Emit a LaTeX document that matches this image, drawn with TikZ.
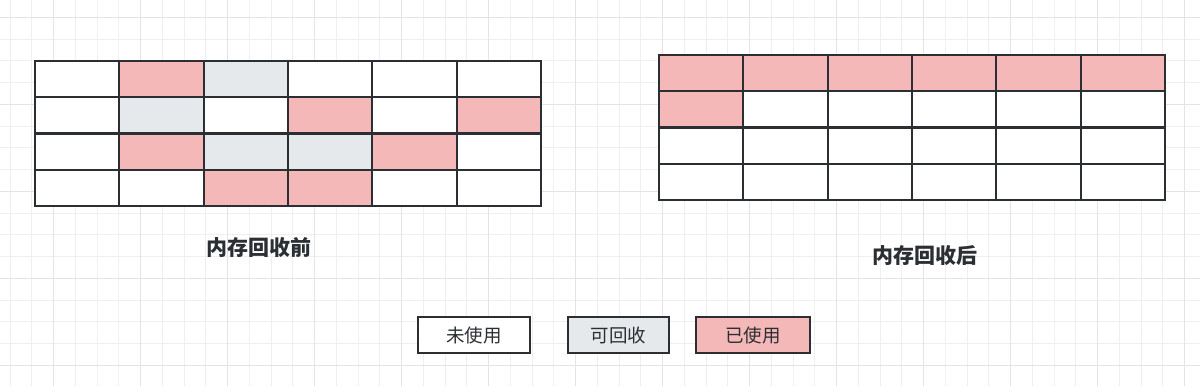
\documentclass[tikz,border=0pt]{standalone}
\usepackage{fontspec}
\newfontfamily\cjk{Noto Sans CJK SC}
\definecolor{pinkc}{HTML}{F4B8B8}
\definecolor{grayc}{HTML}{E6E9EC}
\definecolor{linec}{HTML}{2B2F33}
\definecolor{gridl}{HTML}{EFEFEF}
\definecolor{gridh}{HTML}{E4E4E4}
\tikzset{
  cell/.style={draw=linec,line width=2.2pt,minimum width=84.33pt,minimum height=36.25pt,inner sep=0pt,outer sep=0pt,anchor=north west},
  legend/.style={draw=linec,line width=2.2pt,minimum height=36pt,inner sep=0pt,outer sep=0pt,font=\cjk\fontsize{18.5}{22}\selectfont,text=linec},
  title/.style={font=\cjk\bfseries\fontsize{21}{25}\selectfont,text=linec,inner sep=0pt}
}
\begin{document}
\begin{tikzpicture}[x=1pt,y=-1pt]
\useasboundingbox (0,0) rectangle (1200,386);
\fill[white] (0,0) rectangle (1200,386);
% background grid
\foreach \i in {0,...,54} {\draw[gridl,line width=1pt] ({10.2+21.75*\i},0) -- ++(0,386);}
\foreach \i in {0,...,17} {\draw[gridl,line width=1pt] (0,{17.3+21.75*\i}) -- ++(1200,0);}
\foreach \i in {0,...,13} {\draw[gridh,line width=1.2pt] ({53.7+87*\i},0) -- ++(0,386);}
\foreach \i in {0,...,4} {\draw[gridh,line width=1.2pt] (0,{17.3+87*\i}) -- ++(1200,0);}
% left grid (before)
\foreach \r/\pat in {0/{white,pinkc,grayc,white,white,white},
                     1/{white,grayc,white,pinkc,white,pinkc},
                     2/{white,pinkc,grayc,grayc,pinkc,white},
                     3/{white,white,pinkc,pinkc,white,white}} {
  \foreach \f [count=\c from 0] in \pat {
    \node[cell,fill=\f] (L-\r-\c) at ({35+84.33*\c},{61+36.25*\r}) {};
  }
}
% right grid (after)
\foreach \r/\pat in {0/{pinkc,pinkc,pinkc,pinkc,pinkc,pinkc},
                     1/{pinkc,white,white,white,white,white},
                     2/{white,white,white,white,white,white},
                     3/{white,white,white,white,white,white}} {
  \foreach \f [count=\c from 0] in \pat {
    \node[cell,fill=\f] (R-\r-\c) at ({659+84.33*\c},{55+36.25*\r}) {};
  }
}
% titles
\node[title] (tbefore) at (258.5,248) {内存回收前};
\node[title] (tafter) at (925,256) {内存回收后};
% legend
\node[legend,fill=white,minimum width=112pt] (lg1) at (474,335) {未使用};
\node[legend,fill=grayc,minimum width=101pt] (lg2) at (618.5,335) {可回收};
\node[legend,fill=pinkc,minimum width=114pt] (lg3) at (753,335) {已使用};
\end{tikzpicture}
\end{document}
